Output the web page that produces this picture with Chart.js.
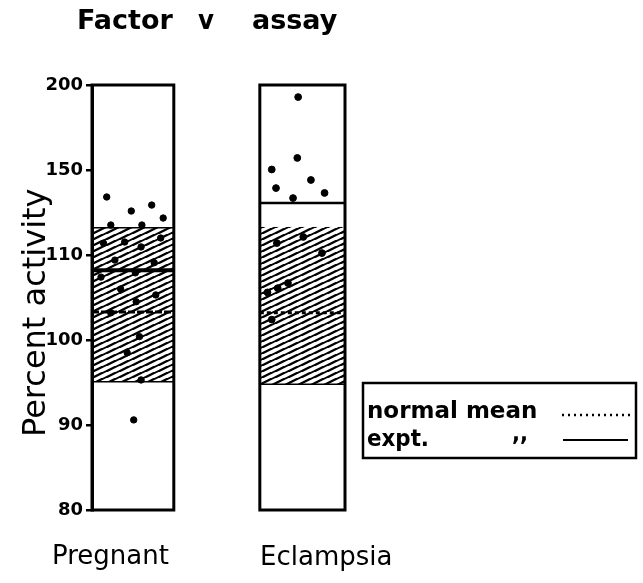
<!DOCTYPE html>
<html>
<head>
<meta charset="utf-8">
<script src="https://cdn.jsdelivr.net/npm/chart.js@4.4.1/dist/chart.umd.min.js"></script>
<style>
  html, body { margin: 0; padding: 0; background: #fff; }
  canvas { display: block; }
</style>
</head>
<body>
<canvas id="factorChart" width="643" height="583"></canvas>
<script>
// axis ticks (the original axis is not linear: ticks are evenly spaced)
const tickValues = [80, 90, 100, 110, 150, 200];

const groups = ['Pregnant', 'Eclampsia'];

// normal range (hatched) and means, per group
const normalLow = [95.1, 94.8];
const normalHigh = [122.8, 123.2];
const normalMean = [103.3, 103.2];
const exptMean = [108.2, 134.5];

// individual results, percent activity, with horizontal spread inside the column
const pregnantValues = [137.3, 130.7, 133.5, 127.4, 124.1, 124.1, 115.6, 116.1, 113.8, 118.0, 109.4,
                        109.1, 107.4, 107.9, 106.0, 105.3, 104.5, 103.2, 100.4, 98.5, 95.3, 90.6];
const pregnantSpread = [0.18, 0.48, 0.73, 0.87, 0.23, 0.61, 0.14, 0.40, 0.60, 0.84, 0.28,
                        0.76, 0.11, 0.53, 0.35, 0.78, 0.54, 0.23, 0.58, 0.43, 0.60, 0.51];
const eclampsiaValues = [192.9, 157.1, 150.3, 145.3, 141.5, 136.8, 139.2, 115.6, 118.5, 110.9,
                         106.7, 106.1, 105.6, 102.4];
const eclampsiaSpread = [0.45, 0.44, 0.14, 0.60, 0.19, 0.39, 0.76, 0.20, 0.51, 0.73,
                         0.33, 0.21, 0.09, 0.14];

// column extents on the x scale
const columns = [[0, 0.97], [1.99, 3]];

// percent -> position on the evenly spaced tick scale
function toPos(v) {
    for (let i = 0; i < tickValues.length - 1; i++) {
        const a = tickValues[i], b = tickValues[i + 1];
        if (v <= b || i === tickValues.length - 2) {
            return i + (v - a) / (b - a);
        }
    }
}

function points(values, spread, col) {
    const [l, r] = columns[col];
    return values.map((v, i) => ({ x: l + spread[i] * (r - l), y: toPos(v) }));
}

function hatchPattern(ctx) {
    const w = 13, h = 6.5;
    const c = document.createElement('canvas');
    c.width = w; c.height = h;
    const g = c.getContext('2d');
    g.strokeStyle = '#000';
    g.lineWidth = 2.3;
    for (let k = -1; k <= 1; k++) {
        g.beginPath();
        g.moveTo(-w, 2 * h + k * h);
        g.lineTo(2 * w, -h + k * h);
        g.stroke();
    }
    return ctx.createPattern(c, 'repeat');
}

const columnPlugin = {
    id: 'columns',
    beforeDatasetsDraw(chart) {
        const ctx = chart.ctx;
        const x = chart.scales.x, y = chart.scales.y;
        const pattern = hatchPattern(ctx);
        ctx.save();
        columns.forEach((col, i) => {
            const l = x.getPixelForValue(col[0]);
            const r = x.getPixelForValue(col[1]);
            const top = y.getPixelForValue(toPos(normalHigh[i]));
            const bot = y.getPixelForValue(toPos(normalLow[i]));

            ctx.fillStyle = pattern;
            ctx.fillRect(l, top, r - l, bot - top);

            ctx.strokeStyle = '#000';
            ctx.setLineDash([]);
            ctx.lineWidth = 1.5;
            ctx.beginPath();
            if (i === 0) { ctx.moveTo(l, top); ctx.lineTo(r, top); }
            ctx.moveTo(l, bot); ctx.lineTo(r, bot);
            ctx.stroke();

            // normal mean (dotted)
            const nm = y.getPixelForValue(toPos(normalMean[i]));
            ctx.lineWidth = 3;
            ctx.setLineDash(i === 0 ? [7, 2] : [4, 3]);
            ctx.beginPath(); ctx.moveTo(l, nm); ctx.lineTo(r, nm); ctx.stroke();

            // experimental mean (solid)
            const em = y.getPixelForValue(toPos(exptMean[i]));
            ctx.setLineDash([]);
            ctx.lineWidth = i === 0 ? 4 : 2.5;
            ctx.beginPath(); ctx.moveTo(l, em); ctx.lineTo(r, em); ctx.stroke();

            // column outline
            const yt = y.getPixelForValue(tickValues.length - 1);
            const yb = y.getPixelForValue(0);
            ctx.lineWidth = 3;
            ctx.strokeRect(l, yt, r - l, yb - yt);
        });
        ctx.restore();
    },
    afterDraw(chart) {
        const ctx = chart.ctx;
        ctx.save();
        ctx.fillStyle = '#000';
        ctx.textBaseline = 'alphabetic';
        ctx.textAlign = 'left';

        // title
        ctx.font = 'bold 27px "DejaVu Sans"';
        ctx.fillText('Factor', 77, 29, 99);
        ctx.fillText('v', 198, 29, 16);
        ctx.fillText('assay', 252, 29, 86);

        // y title
        ctx.save();
        ctx.translate(45, 437);
        ctx.rotate(-Math.PI / 2);
        ctx.font = '32px "DejaVu Sans"';
        ctx.fillText('Percent activity', 0, 0, 254);
        ctx.restore();

        // group labels
        ctx.font = '26px "DejaVu Sans"';
        ctx.fillText(groups[0], 52, 564, 123);
        ctx.fillText(groups[1], 260, 565, 138);

        // legend box
        ctx.strokeStyle = '#000';
        ctx.lineWidth = 2.5;
        ctx.strokeRect(363, 383, 273, 75);
        ctx.font = 'bold 23px "DejaVu Sans"';
        ctx.fillText('normal mean', 367, 418, 190);
        ctx.fillText('expt.', 367, 446, 62);
        ctx.fillText(',,', 512, 441, 16);
        ctx.lineWidth = 2.5;
        ctx.setLineDash([2, 4]);
        ctx.beginPath(); ctx.moveTo(562, 415); ctx.lineTo(630, 415); ctx.stroke();
        ctx.setLineDash([]);
        ctx.lineWidth = 2;
        ctx.beginPath(); ctx.moveTo(563, 440); ctx.lineTo(628, 440); ctx.stroke();
        ctx.restore();
    }
};

document.addEventListener('DOMContentLoaded', function () {

    const canvas = document.getElementById('factorChart');

    new Chart(canvas, {
        type: 'scatter',
        data: {
            datasets: [
                {
                    label: groups[0],
                    data: points(pregnantValues, pregnantSpread, 0),
                    backgroundColor: '#000',
                    borderColor: '#000',
                    pointRadius: 3.2
                },
                {
                    label: groups[1],
                    data: points(eclampsiaValues, eclampsiaSpread, 1),
                    backgroundColor: '#000',
                    borderColor: '#000',
                    pointRadius: 3.4
                }
            ]
        },
        options: {
            responsive: false,
            animation: false,
            layout: {
                padding: { top: 85, right: 298, bottom: 73, left: 0 }
            },
            plugins: {
                legend: { display: false },
                tooltip: { enabled: false }
            },
            scales: {
                x: {
                    type: 'linear',
                    min: 0,
                    max: 3,
                    display: false
                },
                y: {
                    type: 'linear',
                    min: 0,
                    max: tickValues.length - 1,
                    afterFit(scale) { scale.width = 92; },
                    ticks: {
                        stepSize: 1,
                        color: '#000',
                        padding: 3,
                        font: { family: 'DejaVu Sans', size: 18, weight: 'bold' },
                        callback: (v) => tickValues[v]
                    },
                    grid: {
                        drawOnChartArea: false,
                        drawTicks: true,
                        tickLength: 6,
                        lineWidth: 2.5,
                        color: '#000'
                    },
                    border: { display: true, color: '#000', width: 3 }
                }
            }
        },
        plugins: [columnPlugin]
    });

});
</script>
</body>
</html>
